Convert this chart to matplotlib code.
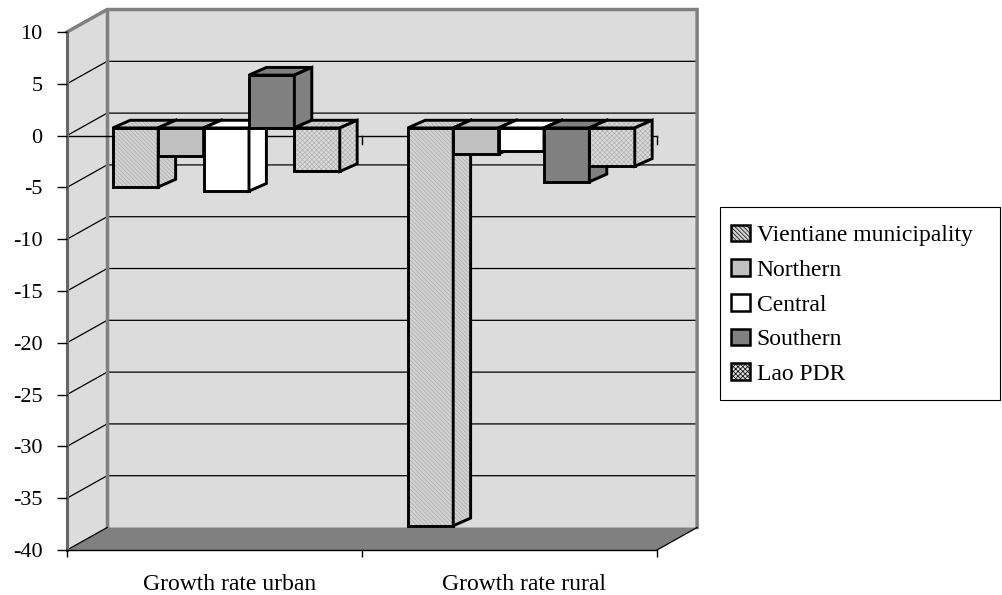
import numpy as np
import matplotlib.pyplot as plt
from matplotlib.patches import Polygon, Patch, Rectangle

# growth rates by region, urban and rural
categories = ["Growth rate urban", "Growth rate rural"]
regions = ["Vientiane municipality", "Northern", "Central", "Southern", "Lao PDR"]
vientiane = [-5.7, -38.4]
northern = [-2.7, -2.5]
central = [-6.1, -2.2]
southern = [5.1, -5.2]
lao_pdr = [-4.2, -3.7]
y_ticks = np.arange(-40, 11, 5)

series = [vientiane, northern, central, southern, lao_pdr]
# face colour, hatch, hatch colour
styles = [
    ("#d2d2d2", "\\\\\\\\\\\\\\\\", "#ababab"),
    ("#c0c0c0", None, "#c0c0c0"),
    ("#ffffff", None, "#ffffff"),
    ("#808080", None, "#808080"),
    ("#dadada", "xxxxxxx", "#b0b0b0"),
]

plt.rcParams["font.family"] = ["Liberation Serif", "DejaVu Serif"]
plt.rcParams["hatch.linewidth"] = 0.5

# oblique offsets (data units) for the pseudo 3d look
wall_dx, wall_dy = 0.136, 2.17
bar_fx, bar_fy = 0.04, 0.74
bar_ddx, bar_ddy = 0.059, 0.74
gap = 1.5
ymin, ymax = y_ticks[0], y_ticks[-1]
ncat = len(categories)

fig = plt.figure(figsize=(10.02, 5.95), dpi=100)
ax = fig.add_axes([67 / 1002, 45 / 595, 590 / 1002, 518 / 595])
ax.set_xlim(0, ncat)
ax.set_ylim(ymin, ymax)
ax.patch.set_visible(False)

wall_col = "#dcdcdc"
edge_grey = "#808080"

# side wall, back wall and floor
side = [(0, ymin), (wall_dx, ymin + wall_dy), (wall_dx, ymax + wall_dy), (0, ymax)]
back = [(wall_dx, ymin + wall_dy), (ncat + wall_dx, ymin + wall_dy),
        (ncat + wall_dx, ymax + wall_dy), (wall_dx, ymax + wall_dy)]
floor = [(0, ymin), (ncat, ymin), (ncat + wall_dx, ymin + wall_dy), (wall_dx, ymin + wall_dy)]
ax.add_patch(Polygon(side, facecolor=wall_col, lw=0, clip_on=False, zorder=0.5))
ax.add_patch(Polygon(back, facecolor=wall_col, lw=0, clip_on=False, zorder=0.5))
ax.add_patch(Polygon(floor, facecolor="#808080", lw=0, clip_on=False, zorder=0.6))

for v in y_ticks[1:-1]:
    ax.plot([0, wall_dx, ncat + wall_dx], [v, v + wall_dy, v + wall_dy],
            color="black", lw=0.9, clip_on=False, zorder=1)

# wall borders
ax.plot([0, wall_dx, ncat + wall_dx, ncat + wall_dx],
        [ymax, ymax + wall_dy, ymax + wall_dy, ymin + wall_dy],
        color=edge_grey, lw=2.5, clip_on=False, zorder=1.2, solid_joinstyle="miter")
ax.plot([wall_dx, wall_dx], [ymin + wall_dy, ymax + wall_dy],
        color=edge_grey, lw=2.5, clip_on=False, zorder=1.2)
ax.plot([0, wall_dx], [ymin, ymin + wall_dy], color="black", lw=0.9, clip_on=False, zorder=1.2)
ax.plot([ncat, ncat + wall_dx], [ymin, ymin + wall_dy], color="black", lw=0.9, clip_on=False, zorder=1.2)

# zero line with its little ticks
ax.plot([0, ncat], [0, 0], color="black", lw=1, clip_on=False, zorder=1.3)
for c in range(ncat + 1):
    ax.plot([c, c], [0, -0.8], color="black", lw=1, clip_on=False, zorder=1.3)


def draw_box(x0, w, v, style):
    face, hatch, hcol = style
    b = min(0, v) + bar_fy
    t = max(0, v) + bar_fy
    x0 = x0 + bar_fx
    x1 = x0 + w
    front = [(x0, b), (x1, b), (x1, t), (x0, t)]
    top = [(x0, t), (x1, t), (x1 + bar_ddx, t + bar_ddy), (x0 + bar_ddx, t + bar_ddy)]
    right = [(x1, b), (x1 + bar_ddx, b + bar_ddy), (x1 + bar_ddx, t + bar_ddy), (x1, t)]
    for pts in (front, top, right):
        ax.add_patch(Polygon(pts, facecolor=face, edgecolor=hcol, hatch=hatch,
                             lw=0, clip_on=False, zorder=3))
        ax.add_patch(Polygon(pts, fill=False, edgecolor="black", lw=2.1,
                             joinstyle="miter", clip_on=False, zorder=3))


nser = len(series)
width = 1 / (nser + gap)
for c in range(ncat):
    start = c + gap * width / 2
    for i, vals in enumerate(series):
        draw_box(start + i * width, width, vals[c], styles[i])

# axes lines and labels
for s in ("top", "right"):
    ax.spines[s].set_visible(False)
ax.spines["left"].set_color("#666666")
ax.spines["left"].set_linewidth(2.2)
ax.spines["left"].set_zorder(1.4)
ax.spines["bottom"].set_linewidth(1)
ax.spines["bottom"].set_zorder(1.4)

ax.set_yticks(y_ticks)
ax.set_yticklabels([str(v) for v in y_ticks])
ax.tick_params(axis="y", direction="out", length=7, width=1, color="black",
               pad=10.5, labelsize=16)
ax.set_xticks(range(ncat + 1))
ax.set_xticklabels([""] * (ncat + 1))
ax.tick_params(axis="x", which="major", direction="out", length=5, width=1, color="black")
# category names sit under the (depth-shifted) bar groups
ax.set_xticks([c + 0.5 + 0.05 for c in range(ncat)], minor=True)
ax.set_xticklabels(categories, minor=True)
ax.tick_params(axis="x", which="minor", length=0, pad=17, labelsize=17)

handles = []
for st in styles:
    face, hatch, hcol = st
    handles.append(Patch(facecolor=face, edgecolor="black", hatch=hatch, lw=1.8))
fig.legend(handles, regions, loc="upper left",
           bbox_to_anchor=(720 / 1002, 1 - 214 / 595),
           borderaxespad=0, fontsize=17, frameon=False,
           handlelength=0.8, handleheight=0.72, handletextpad=0.3,
           labelspacing=0.55, borderpad=0.45)
# legend border
fig.patches.append(Rectangle((720 / 1002, 1 - 400 / 595), 280 / 1002, 193 / 595,
                             transform=fig.transFigure, fill=False,
                             edgecolor="black", lw=0.8))

fig.savefig("out.png", dpi=100)
